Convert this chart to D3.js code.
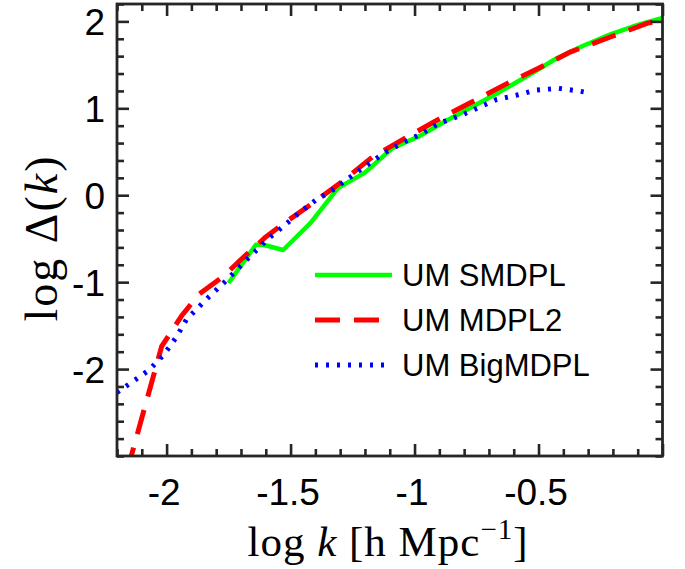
<!DOCTYPE html>
<html><head><meta charset="utf-8">
<script src="https://cdn.jsdelivr.net/npm/d3@7"></script>
<style>body{margin:0;background:#fff}svg{display:block}</style>
</head><body>
<svg id="c" width="685" height="569"></svg>
<script>
// ---- data ----
const smdplK = [-1.75,-1.64,-1.61,-1.53,-1.42,-1.31,-1.20,-1.09,-0.98,-0.87,-0.76,-0.65,-0.54,-0.43,-0.32,-0.21,-0.10,0.0];
const smdplV = [-1.01,-0.57,-0.57,-0.63,-0.32,0.08,0.26,0.54,0.68,0.86,1.03,1.20,1.38,1.57,1.72,1.85,1.96,2.04];
const mdpl2K = [-2.16,-2.02,-1.94,-1.87,-1.77,-1.70,-1.60,-1.52,-1.43,-1.30,-1.17,-1.03,-0.88,-0.73,-0.61,-0.50,-0.37,-0.21,-0.06,0.0];
const mdpl2V = [-3.18,-1.74,-1.39,-1.14,-0.93,-0.74,-0.48,-0.31,-0.13,0.14,0.44,0.67,0.91,1.13,1.31,1.46,1.65,1.82,1.98,2.01];
const bigK = [-2.20,-2.07,-2.01,-1.96,-1.92,-1.83,-1.77,-1.68,-1.59,-1.53,-1.46,-1.40,-1.33,-1.23,-1.12,-1.05,-0.97,-0.90,-0.82,-0.74,-0.67,-0.59,-0.51,-0.42,-0.34,-0.30];
const bigV = [-2.27,-2.01,-1.83,-1.63,-1.43,-1.17,-1.01,-0.75,-0.50,-0.36,-0.19,-0.06,0.06,0.27,0.49,0.60,0.71,0.83,0.91,1.01,1.10,1.15,1.21,1.23,1.20,1.18];
const seriesNames = ["UM SMDPL","UM MDPL2","UM BigMDPL"];
const xMajor = [-2,-1.5,-1,-0.5,0];
const xMajorLabels = ["-2","-1.5","-1","-0.5",""];
const yMajor = [-2,-1,0,1,2];
const yMajorLabels = ["-2","-1","0","1","2"];
const xDomain = [-2.2, 0];
const yDomain = [-3, 2.2];

// ---- layout ----
const L = 117, R = 662.5, T = 4, B = 456;
const svg = d3.select("#c");
const x = d3.scaleLinear().domain(xDomain).range([L, R]);
const y = d3.scaleLinear().domain(yDomain).range([B, T]);
const axisColor = "#262626";
const tickFont = "'Liberation Sans', Arial, Helvetica, sans-serif";

svg.append("defs").append("clipPath").attr("id","clip")
  .append("rect").attr("x",L).attr("y",T).attr("width",R-L).attr("height",B-T);

const xMinor = d3.range(-22, 1).map(d => d/10).filter(v => !xMajor.some(m => Math.abs(m-v)<1e-9));
const yMinor = d3.range(-15, 12).map(d => d/5).filter(v => !yMajor.some(m => Math.abs(m-v)<1e-9));

const series = [
  {k: smdplK, v: smdplV, color: "#00ff00", w: 4.5, dash: null},
  {k: mdpl2K, v: mdpl2V, color: "#ff0000", w: 5, dash: "25,14"},
  {k: bigK, v: bigV, color: "#0000ff", w: 5, dash: "3,8"}
];
const line = d3.line().x(d => x(d[0])).y(d => y(d[1]));
const plot = svg.append("g").attr("clip-path","url(#clip)");
series.forEach(s => {
  plot.append("path").datum(s.k.map((k,i)=>[k, s.v[i]]))
    .attr("d", line).attr("fill","none").attr("stroke", s.color)
    .attr("stroke-width", s.w).attr("stroke-dasharray", s.dash)
    .attr("stroke-linejoin","round");
});

function styleAxis(g){
  g.select(".domain").remove();
  g.selectAll("line").attr("stroke", axisColor).attr("stroke-width", 2.6);
  g.selectAll("text").attr("fill", "#000").style("font-family", tickFont).style("font-size","37px");
}
// bottom
const gb = svg.append("g").attr("transform",`translate(0,${B})`);
gb.call(d3.axisBottom(x).tickValues(xMajor).tickSize(-12).tickPadding(20).tickFormat((d,i)=>xMajorLabels[i]));
styleAxis(gb);
gb.selectAll("text").attr("y", 49).attr("dy", null).attr("dx", -3);
const gbm = svg.append("g").attr("transform",`translate(0,${B})`);
gbm.call(d3.axisBottom(x).tickValues(xMinor).tickSize(-7).tickFormat(""));
styleAxis(gbm);
// top
const gt = svg.append("g").attr("transform",`translate(0,${T})`);
gt.call(d3.axisTop(x).tickValues(xMajor).tickSize(-12).tickFormat(""));
styleAxis(gt);
const gtm = svg.append("g").attr("transform",`translate(0,${T})`);
gtm.call(d3.axisTop(x).tickValues(xMinor).tickSize(-7).tickFormat(""));
styleAxis(gtm);
// left
const gl = svg.append("g").attr("transform",`translate(${L},0)`);
gl.call(d3.axisLeft(y).tickValues(yMajor).tickSize(-12).tickPadding(12).tickFormat((d,i)=>yMajorLabels[i]));
styleAxis(gl);
gl.selectAll("text").attr("x", -12).attr("dy", "0.36em");
const glm = svg.append("g").attr("transform",`translate(${L},0)`);
glm.call(d3.axisLeft(y).tickValues(yMinor).tickSize(-7).tickFormat(""));
styleAxis(glm);
// right
const gr = svg.append("g").attr("transform",`translate(${R},0)`);
gr.call(d3.axisRight(y).tickValues(yMajor).tickSize(-12).tickFormat(""));
styleAxis(gr);
const grm = svg.append("g").attr("transform",`translate(${R},0)`);
grm.call(d3.axisRight(y).tickValues(yMinor).tickSize(-7).tickFormat(""));
styleAxis(grm);

// box
svg.append("rect").attr("x",L).attr("y",T).attr("width",R-L).attr("height",B-T)
  .attr("fill","none").attr("stroke",axisColor).attr("stroke-width",2.8);

// legend
const legY0 = 275, legDy = 45;
series.forEach((s,i) => {
  const yy = legY0 + i*legDy;
  svg.append("line").attr("x1",315).attr("x2",392).attr("y1",yy).attr("y2",yy)
    .attr("stroke",s.color).attr("stroke-width",s.w).attr("stroke-dasharray",s.dash);
  svg.append("text").attr("x",402).attr("y",yy).attr("dy","0.36em")
    .style("font-family",tickFont).style("font-size","31px").attr("fill","#000")
    .text(seriesNames[i]);
});

// axis labels (LaTeX-like serif)
const serif = "'Liberation Serif', 'DejaVu Serif', 'Times New Roman', serif";
const xl = svg.append("text").attr("x", 388).attr("y", 556).attr("text-anchor","middle")
  .style("font-family", serif).style("font-size","43px").style("letter-spacing","1px").attr("fill","#000");
xl.append("tspan").text("log ");
xl.append("tspan").style("font-style","italic").text("k");
xl.append("tspan").text("  [h Mpc");
xl.append("tspan").attr("dy",-17).style("font-size","29px").text("\u22121");
xl.append("tspan").attr("dy",17).text("]");

const yl = svg.append("text").attr("transform","translate(57,238) rotate(-90)").attr("text-anchor","middle")
  .style("font-family", serif).style("font-size","46px").style("letter-spacing","2px").attr("fill","#000");
yl.append("tspan").text("log \u0394(");
yl.append("tspan").style("font-style","italic").text("k");
yl.append("tspan").text(")");
</script>
</body></html>
